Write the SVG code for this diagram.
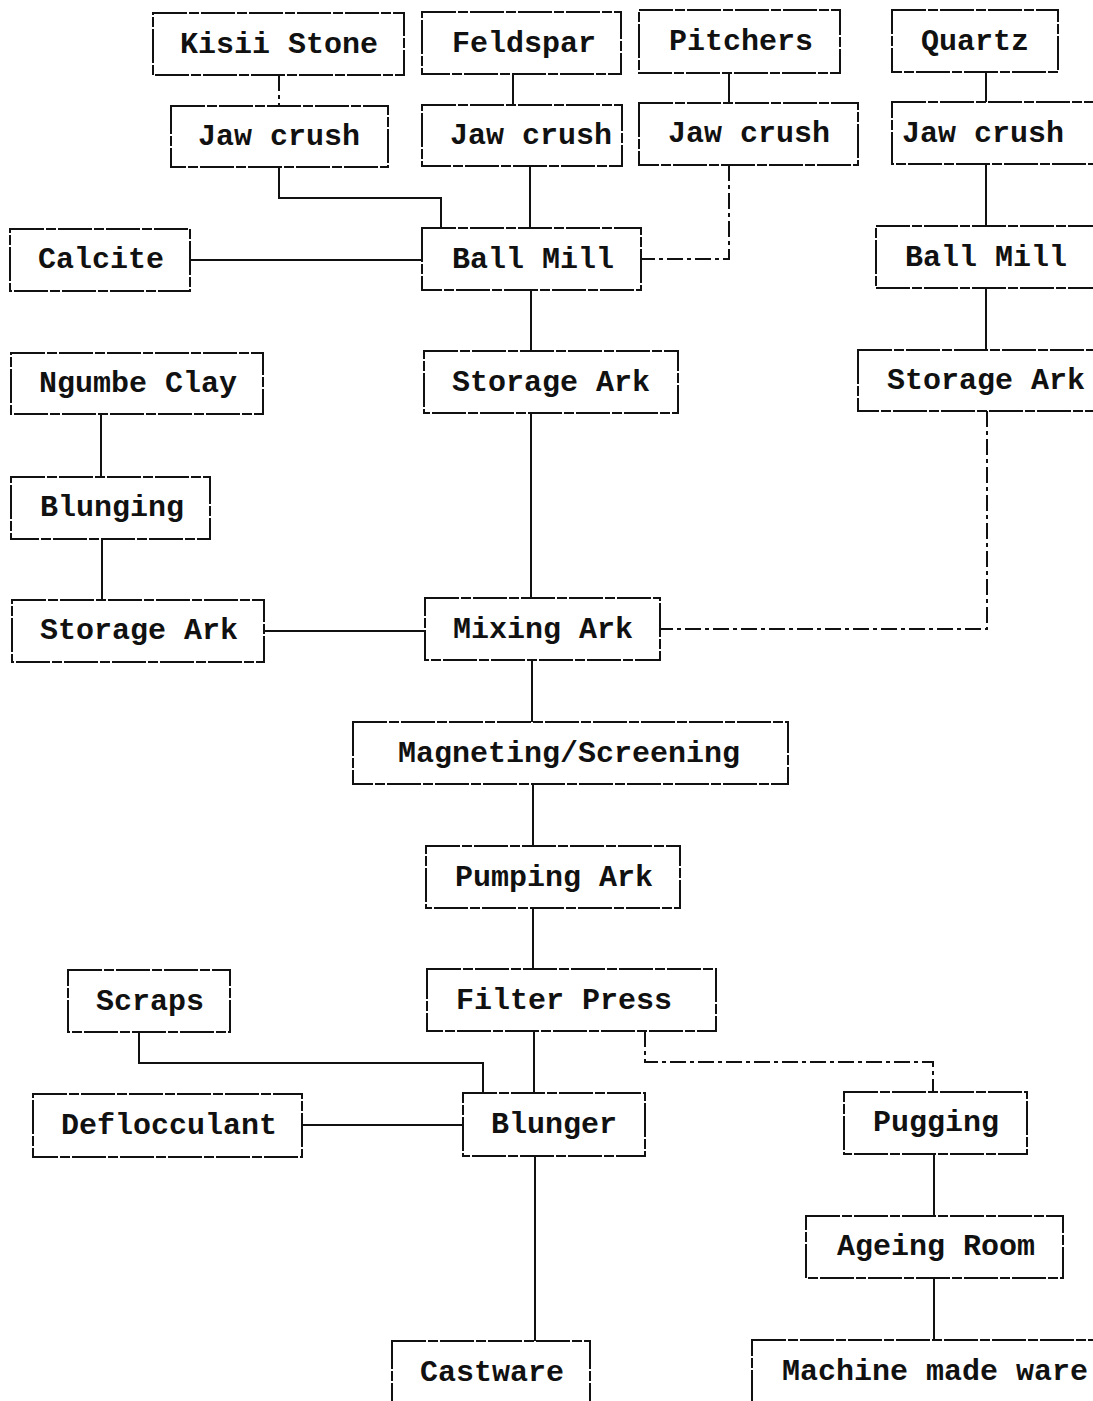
<svg xmlns="http://www.w3.org/2000/svg" width="1093" height="1401" viewBox="0 0 1093 1401">
  <style>
    .box { fill: #ffffff; stroke: #111; stroke-width: 2; stroke-dasharray: 34 2 10 2; }
    .lbl { font-family: "Liberation Mono", "Courier New", monospace; font-size: 30px; font-weight: bold; fill: #111; }
    .ln { fill: none; stroke: #111; stroke-width: 2; }
    .dl { fill: none; stroke: #111; stroke-width: 2; stroke-dasharray: 16 4 4 4; }
  </style>
  <rect width="1093" height="1401" fill="#ffffff"/>

  <!-- connectors -->
  <g id="connectors">
    <path class="dl" d="M279 75 V106"/>
    <path class="ln" d="M513 74 V105"/>
    <path class="ln" d="M729 73 V103"/>
    <path class="ln" d="M986 72 V102"/>
    <path class="ln" d="M279 167 V198 H441 V228"/>
    <path class="ln" d="M530 166 V228"/>
    <path class="dl" d="M729 165 V259 H641"/>
    <path class="ln" d="M190 260 H422"/>
    <path class="ln" d="M531 290 V351"/>
    <path class="ln" d="M986 164 V226"/>
    <path class="ln" d="M986 288 V350"/>
    <path class="ln" d="M531 413 V598"/>
    <path class="dl" d="M987 411 V629 H660"/>
    <path class="ln" d="M101 414 V477"/>
    <path class="ln" d="M102 539 V600"/>
    <path class="ln" d="M264 631 H425"/>
    <path class="ln" d="M532 660 V722"/>
    <path class="ln" d="M533 784 V846"/>
    <path class="ln" d="M533 908 V969"/>
    <path class="ln" d="M534 1031 V1093"/>
    <path class="ln" d="M139 1032 V1063 H483 V1093"/>
    <path class="dl" d="M645 1031 V1062 H933 V1092"/>
    <path class="ln" d="M302 1125 H463"/>
    <path class="ln" d="M535 1156 V1341"/>
    <path class="ln" d="M934 1154 V1216"/>
    <path class="ln" d="M934 1278 V1340"/>
  </g>

  <!-- raw materials -->
  <g id="kisii-stone"><rect class="box" x="153" y="13" width="251" height="62"/><text class="lbl" x="180" y="53">Kisii Stone</text></g>
  <g id="feldspar"><rect class="box" x="422" y="12" width="199" height="62"/><text class="lbl" x="452" y="52">Feldspar</text></g>
  <g id="pitchers"><rect class="box" x="639" y="10" width="201" height="63"/><text class="lbl" x="669" y="50">Pitchers</text></g>
  <g id="quartz"><rect class="box" x="892" y="10" width="166" height="62"/><text class="lbl" x="921" y="50">Quartz</text></g>

  <!-- crushing -->
  <g id="jaw-crush-1"><rect class="box" x="171" y="106" width="217" height="61"/><text class="lbl" x="198" y="145">Jaw crush</text></g>
  <g id="jaw-crush-2"><rect class="box" x="422" y="105" width="200" height="61"/><text class="lbl" x="450" y="144">Jaw crush</text></g>
  <g id="jaw-crush-3"><rect class="box" x="639" y="103" width="219" height="62"/><text class="lbl" x="668" y="142">Jaw crush</text></g>
  <g id="jaw-crush-4"><rect class="box" x="892" y="102" width="210" height="62"/><text class="lbl" x="902" y="142">Jaw crush</text></g>

  <!-- milling -->
  <g id="calcite"><rect class="box" x="10" y="229" width="180" height="62"/><text class="lbl" x="38" y="268">Calcite</text></g>
  <g id="ball-mill-1"><rect class="box" x="422" y="228" width="219" height="62"/><text class="lbl" x="452" y="268">Ball Mill</text></g>
  <g id="ball-mill-2"><rect class="box" x="876" y="226" width="226" height="62"/><text class="lbl" x="905" y="266">Ball Mill</text></g>

  <!-- storage -->
  <g id="ngumbe-clay"><rect class="box" x="11" y="353" width="252" height="61"/><text class="lbl" x="39" y="392">Ngumbe Clay</text></g>
  <g id="storage-ark-1"><rect class="box" x="424" y="351" width="254" height="62"/><text class="lbl" x="452" y="391">Storage Ark</text></g>
  <g id="storage-ark-2"><rect class="box" x="858" y="350" width="244" height="61"/><text class="lbl" x="887" y="389">Storage Ark</text></g>
  <g id="blunging"><rect class="box" x="11" y="477" width="199" height="62"/><text class="lbl" x="40" y="516">Blunging</text></g>
  <g id="storage-ark-3"><rect class="box" x="12" y="600" width="252" height="62"/><text class="lbl" x="40" y="639">Storage Ark</text></g>

  <!-- slip preparation -->
  <g id="mixing-ark"><rect class="box" x="425" y="598" width="235" height="62"/><text class="lbl" x="453" y="638">Mixing Ark</text></g>
  <g id="magneting"><rect class="box" x="353" y="722" width="435" height="62"/><text class="lbl" x="398" y="762">Magneting/Screening</text></g>
  <g id="pumping-ark"><rect class="box" x="426" y="846" width="254" height="62"/><text class="lbl" x="455" y="886">Pumping Ark</text></g>
  <g id="scraps"><rect class="box" x="68" y="970" width="162" height="62"/><text class="lbl" x="96" y="1010">Scraps</text></g>
  <g id="filter-press"><rect class="box" x="427" y="969" width="289" height="62"/><text class="lbl" x="456" y="1009">Filter Press</text></g>
  <g id="deflocculant"><rect class="box" x="33" y="1094" width="269" height="63"/><text class="lbl" x="61" y="1134">Deflocculant</text></g>
  <g id="blunger"><rect class="box" x="463" y="1093" width="182" height="63"/><text class="lbl" x="491" y="1133">Blunger</text></g>
  <g id="pugging"><rect class="box" x="844" y="1092" width="183" height="62"/><text class="lbl" x="873" y="1131">Pugging</text></g>
  <g id="ageing-room"><rect class="box" x="806" y="1216" width="257" height="62"/><text class="lbl" x="837" y="1255">Ageing Room</text></g>

  <!-- products -->
  <g id="castware"><rect class="box" x="392" y="1341" width="198" height="80"/><text class="lbl" x="420" y="1381">Castware</text></g>
  <g id="machine-made-ware"><rect class="box" x="752" y="1340" width="360" height="80"/><text class="lbl" x="782" y="1380">Machine made ware</text></g>
</svg>
